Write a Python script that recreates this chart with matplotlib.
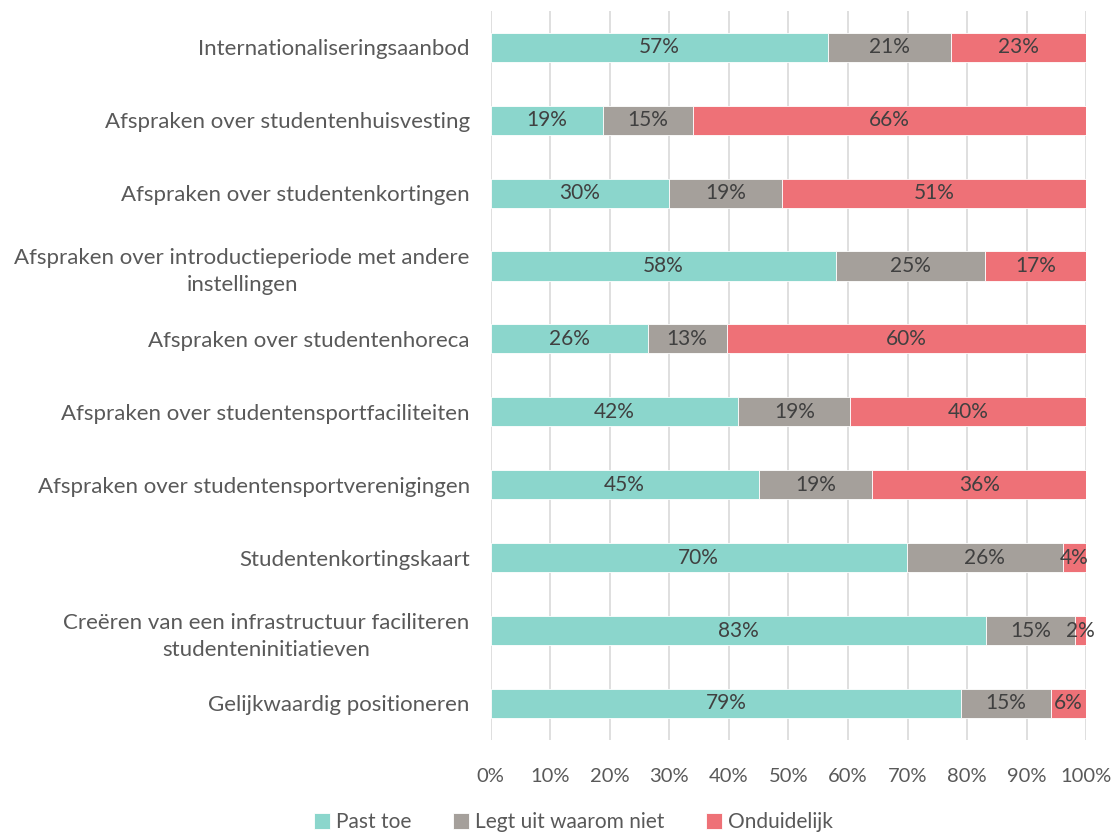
import matplotlib.pyplot as plt
import numpy as np

plt.rcParams['font.family'] = ['Lato', 'DejaVu Sans']

categories = [
    "Internationaliseringsaanbod",
    "Afspraken over studentenhuisvesting",
    "Afspraken over studentenkortingen",
    "Afspraken over introductieperiode met andere\ninstellingen",
    "Afspraken over studentenhoreca",
    "Afspraken over studentensportfaciliteiten",
    "Afspraken over studentensportverenigingen",
    "Studentenkortingskaart",
    "Creëren van een infrastructuur faciliteren\nstudenteninitiatieven",
    "Gelijkwaardig positioneren",
]
past_toe = [56.6, 18.9, 29.9, 58.0, 26.4, 41.6, 45.0, 69.9, 83.1, 79.0]
legt_uit = [20.7, 15.0, 19.0, 25.0, 13.2, 18.8, 19.0, 26.1, 15.0, 15.0]
onduidelijk = [22.7, 66.1, 51.1, 17.0, 60.4, 39.6, 36.0, 4.0, 1.9, 6.0]

series = [("Past toe", past_toe, "#8BD6CC"),
          ("Legt uit waarom niet", legt_uit, "#A5A09B"),
          ("Onduidelijk", onduidelijk, "#EE7177")]

fig = plt.figure(figsize=(11.2, 8.36), dpi=100)
ax = fig.add_axes([0.438, 0.115, 0.532, 0.872])

y = np.arange(len(categories))
left = np.zeros(len(categories))
for name, vals, col in series:
    bars = ax.barh(y, vals, left=left, height=0.4, color=col, label=name,
                   edgecolor='white', linewidth=0.6, zorder=3)
    ax.bar_label(bars, labels=[f"{v:.0f}%" for v in vals], label_type='center',
                 fontsize=15, color='#404040')
    left += np.array(vals)

ax.set_xlim(0, 100)
ax.set_ylim(len(categories) - 0.5, -0.5)
ax.set_xticks(np.arange(0, 101, 10))
ax.set_xticklabels([f"{t}%" for t in range(0, 101, 10)], fontsize=14.5)
ax.set_yticks(y)
ax.set_yticklabels(categories, fontsize=16)
for t in ax.get_yticklabels():
    t.set_multialignment('center')
    t.set_linespacing(1.45)
ax.tick_params(axis='both', length=0, colors='#595959')
ax.tick_params(axis='x', pad=20)
ax.tick_params(axis='y', pad=15)
ax.grid(axis='x', color='#D9D9D9', linewidth=1.2, zorder=0)
for s in ax.spines.values():
    s.set_visible(False)

fig.legend(loc='lower center', bbox_to_anchor=(0.512, -0.018), ncol=3, frameon=False,
           fontsize=15, handlelength=0.75, handleheight=0.75, handletextpad=0.3,
           columnspacing=2.0, labelcolor='#595959')

fig.savefig("out.png", dpi=100)
